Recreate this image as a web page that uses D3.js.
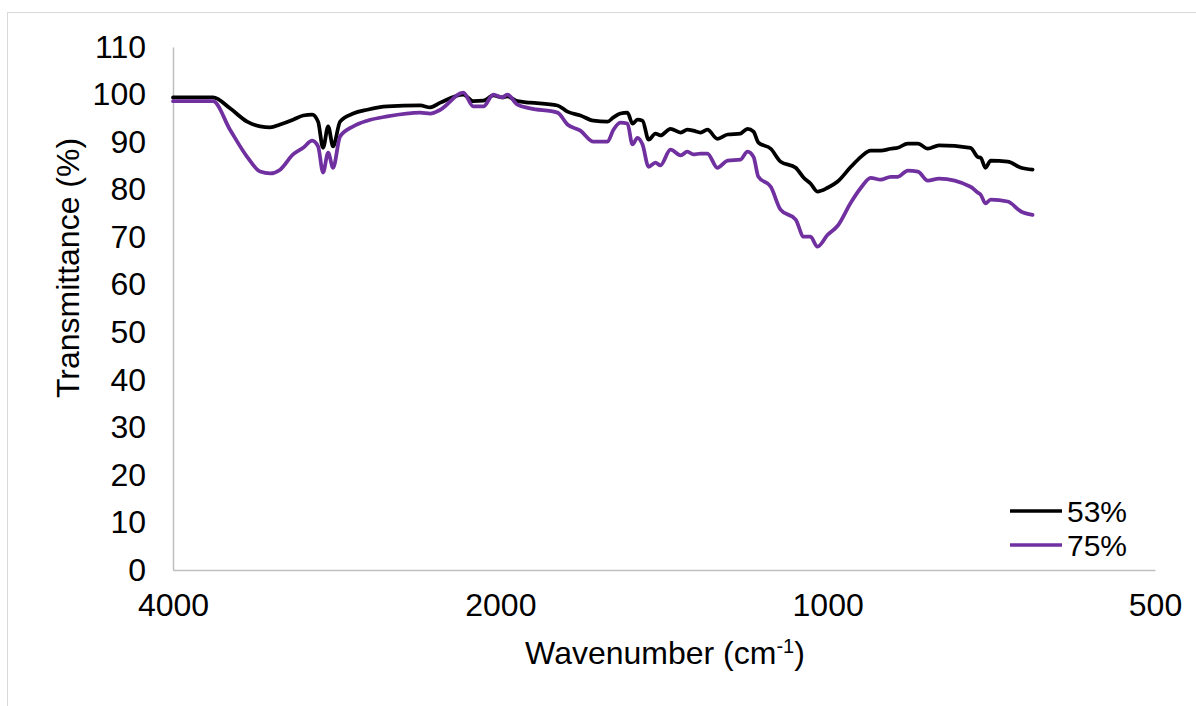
<!DOCTYPE html>
<html>
<head>
<meta charset="utf-8">
<script src="https://cdn.jsdelivr.net/npm/d3@7"></script>
<style>
  body { margin: 0; background: #fff; }
  svg { font-family: "Liberation Sans", Arial, sans-serif; }
</style>
</head>
<body>
<svg width="1196" height="706"></svg>
<script>
// wavenumber (cm-1)
var wavenumber = [4000, 3675, 3545, 3419, 3326, 3256, 3188, 3102, 3036, 2979, 2942, 2911, 2880, 2850, 2808,
  2731, 2651, 2541, 2370, 2320, 2271, 2163, 2118, 2073, 2030, 1992, 1971, 1929, 1877, 1772, 1735, 1688,
  1642, 1594, 1574, 1551, 1528, 1512, 1496, 1480, 1461, 1440, 1425, 1395, 1365, 1346, 1329, 1309, 1290,
  1263, 1236, 1203, 1185, 1170, 1158, 1128, 1105, 1070, 1052, 1037, 1022, 1000, 979, 952, 932, 913, 894,
  875, 862, 844, 826, 809, 790, 739, 728, 723, 716, 708, 683, 664, 648];

// transmittance (%) for 53%
var t53 = [99.4, 99.4, 97.1, 94.3, 93.3, 93.1, 93.7, 94.7, 95.6, 95.8, 94.3, 88.8, 93.3, 89.1, 94.3,
  96.0, 96.8, 97.5, 97.7, 97.3, 98.3, 100.0, 98.6, 98.7, 99.8, 99.4, 99.6, 98.6, 98.3, 97.7, 96.4, 95.6,
  94.5, 94.3, 95.2, 96.0, 96.2, 93.9, 94.7, 94.5, 90.5, 91.8, 91.4, 92.8, 92.0, 92.6, 92.4, 92.0, 92.6,
  90.7, 91.6, 91.8, 92.8, 92.2, 89.9, 88.6, 85.9, 84.6, 82.5, 81.3, 79.6, 80.4, 81.7, 84.8, 86.9, 88.2, 88.2,
  88.6, 88.8, 89.7, 89.7, 88.6, 89.3, 88.8, 86.9, 86.7, 84.6, 86.1, 85.9, 84.6, 84.2];

// transmittance (%) for 75%
var t75 = [98.6, 98.6, 92.6, 86.9, 83.8, 83.4, 84.2, 87.4, 88.8, 90.3, 89.1, 83.6, 87.8, 84.6, 91.2,
  93.3, 94.5, 95.4, 96.2, 96.0, 96.8, 100.4, 97.5, 97.5, 100.0, 99.4, 100.0, 97.9, 97.1, 96.2, 93.7, 92.4,
  90.1, 90.1, 92.6, 94.1, 93.9, 89.5, 90.9, 89.5, 84.8, 85.7, 85.1, 88.4, 87.2, 88.0, 87.4, 87.6, 87.6,
  84.6, 86.1, 86.3, 88.0, 86.9, 82.7, 80.6, 75.8, 73.7, 70.1, 70.1, 68.0, 70.5, 72.4, 77.3, 80.4, 82.5, 82.1,
  82.7, 82.7, 84.0, 83.8, 81.9, 82.3, 80.6, 79.4, 78.9, 77.1, 77.9, 77.5, 75.4, 74.7];

var seriesNames = ['53%', '75%'];
var seriesColors = ['#000000', '#7030a0'];
var yTicks = [0, 10, 20, 30, 40, 50, 60, 70, 80, 90, 100, 110];
var xTicks = [4000, 2000, 1000, 500];

var svg = d3.select('svg');

// borda do grafico
svg.append('rect').attr('x', 7.5).attr('y', 12.5).attr('width', 1200).attr('height', 700)
  .attr('fill', 'none').attr('stroke', '#d9d9d9').attr('stroke-width', 1);

var x = d3.scaleLog().base(2).domain([4000, 500]).range([173, 1155]);
var y = d3.scaleLinear().domain([0, 110]).range([570, 47]);

// eixo y
var yAxis = d3.axisLeft(y).tickValues(yTicks).tickSize(0).tickPadding(27).tickFormat(d3.format('d'));
var gy = svg.append('g').attr('transform', 'translate(173,0)').call(yAxis);
gy.select('.domain').attr('stroke', '#bfbfbf').attr('stroke-width', 1.5);
gy.selectAll('text').attr('font-size', 32).attr('fill', '#000').attr('font-family', 'Liberation Sans, Arial, sans-serif');

// eixo x
var xAxis = d3.axisBottom(x).tickValues(xTicks).tickSize(0).tickPadding(23).tickFormat(d3.format('d'));
var gx = svg.append('g').attr('transform', 'translate(0,570)').call(xAxis);
gx.select('.domain').attr('stroke', '#bfbfbf').attr('stroke-width', 1.5);
gx.selectAll('text').attr('font-size', 32).attr('fill', '#000').attr('font-family', 'Liberation Sans, Arial, sans-serif');

// linhas
var series = [t53, t75];
var line = d3.line()
  .x(function(d, i) { return x(wavenumber[i]); })
  .y(function(d) { return y(d); })
  .curve(d3.curveMonotoneX);

series.forEach(function(s, k) {
  svg.append('path').datum(s)
    .attr('d', line)
    .attr('fill', 'none')
    .attr('stroke', seriesColors[k])
    .attr('stroke-width', 3.75)
    .attr('stroke-linejoin', 'round')
    .attr('stroke-linecap', 'round');
});

// titulos dos eixos
svg.append('text').attr('x', 665).attr('y', 664).attr('text-anchor', 'middle')
  .attr('font-size', 32).attr('fill', '#000')
  .html('Wavenumber (cm<tspan baseline-shift="super" font-size="20">-1</tspan>)');

svg.append('text').attr('transform', 'translate(79,268) rotate(-90)').attr('text-anchor', 'middle')
  .attr('font-size', 32).attr('fill', '#000')
  .text('Transmittance (%)');

// legenda
seriesNames.forEach(function(n, k) {
  var ly = 511 + k * 34;
  svg.append('line').attr('x1', 1010).attr('x2', 1062).attr('y1', ly).attr('y2', ly)
    .attr('stroke', seriesColors[k]).attr('stroke-width', 3.5);
  svg.append('text').attr('x', 1067).attr('y', ly).attr('dy', '0.36em')
    .attr('font-size', 30).attr('fill', '#000').text(n);
});
</script>
</body>
</html>
